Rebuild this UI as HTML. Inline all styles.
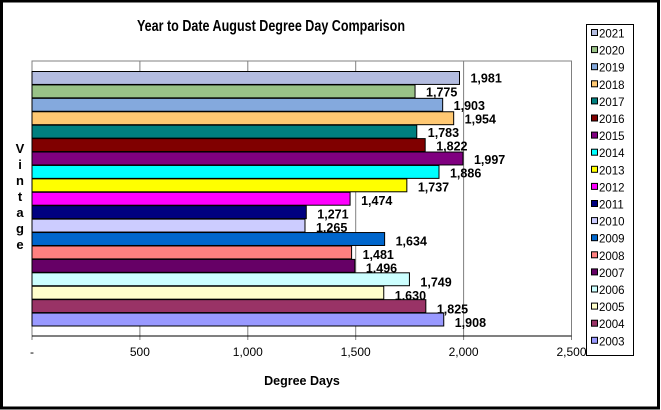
<!DOCTYPE html>
<html><head><meta charset="utf-8"><style>
body{margin:0;background:#fff}
svg{display:block;font-family:"Liberation Sans",Arial,sans-serif}
</style></head><body>
<svg width="661" height="410" viewBox="0 0 661 410">
<rect x="1.5" y="1" width="657" height="407" fill="#fff" stroke="#000" stroke-width="3"/>
<text x="271" y="31" text-anchor="middle" font-weight="bold" font-size="15.5" textLength="268" lengthAdjust="spacingAndGlyphs">Year to Date August Degree Day Comparison</text>
<g id="plot"></g>
<g id="legend"></g>
<text x="302" y="385" text-anchor="middle" font-weight="bold" font-size="12.5">Degree Days</text>
<g id="ytitle"></g>
</svg>
<script>
const years=["2021","2020","2019","2018","2017","2016","2015","2014","2013","2012","2011","2010","2009","2008","2007","2006","2005","2004","2003"];
const values=[1981,1775,1903,1954,1783,1822,1997,1886,1737,1474,1271,1265,1634,1481,1496,1749,1630,1825,1908];
const colors=["#b3bce0","#99c287","#84a9dd","#ffc872","#008080","#800000","#800080","#00ffff","#ffff00","#ff00ff","#000080","#ccccff","#0066cc","#ff8080","#660066","#ccffff","#ffffcc","#993366","#9999ff"];
const ticks=[0,500,1000,1500,2000,2500];
const tickLabels=["-","500","1,000","1,500","2,000","2,500"];
const NS="http://www.w3.org/2000/svg";
function mk(p,t,a,txt){const e=document.createElementNS(NS,t);for(const k in a)e.setAttribute(k,a[k]);if(txt!=null)e.textContent=txt;p.appendChild(e);return e;}
const x0=32,x1=571.5,y0=61,y1=336,vmax=2500;
const xs=v=>x0+(x1-x0)*v/vmax;
const bandTop=71.5,band=(326.5-71.5)/years.length;
const plot=document.getElementById('plot');
let r=mk(plot,'rect',{x:x0,y:y0,width:x1-x0,height:y1-y0,fill:'#fff',stroke:'#808080'});

ticks.forEach((t,i)=>{
 let l=mk(plot,'line',{x1:xs(t),x2:xs(t),y1:y0,y2:y1+4,stroke:'#808080','stroke-width':1});
 
 let tx=mk(plot,'text',{x:xs(t),y:y1+20,'text-anchor':'middle','font-size':'12'},tickLabels[i]);
 
});
let ax=mk(plot,'line',{x1:x0,x2:x1,y1:y1,y2:y1,stroke:'#000'});

values.forEach((v,i)=>{
 const y=bandTop+i*band;
 let b=mk(plot,'rect',{x:x0,y:y,width:xs(v)-x0,height:band-0.5,fill:colors[i],stroke:'#000','stroke-width':1});
 
 let t=mk(plot,'text',{x:xs(v)+11,y:y+band/2+4.5+i*0.15,'font-size':'12.5','font-weight':'bold'},v.toLocaleString('en-US'));
 
});
const lg=document.getElementById('legend');
let lb=mk(lg,'rect',{x:586.5,y:24.5,width:47,height:331,fill:'#fff',stroke:'#000'});

years.forEach((yr,i)=>{
 const y=33+i*17.1;
 let g=mk(lg,'g',{});
 
 mk(g,'rect',{x:591.5,y:y-3.5,width:6,height:6,fill:colors[i],stroke:'#000','stroke-width':1});
 mk(g,'text',{x:599,y:y+4.5,'font-size':'11.5'},yr);
});
const yt=document.getElementById('ytitle');
"Vintage".split('').forEach((c,i)=>{
 let t=mk(yt,'text',{x:20,y:153+i*16,'text-anchor':'middle','font-size':'13','font-weight':'bold'},c);
 
});
</script>
</body></html>
